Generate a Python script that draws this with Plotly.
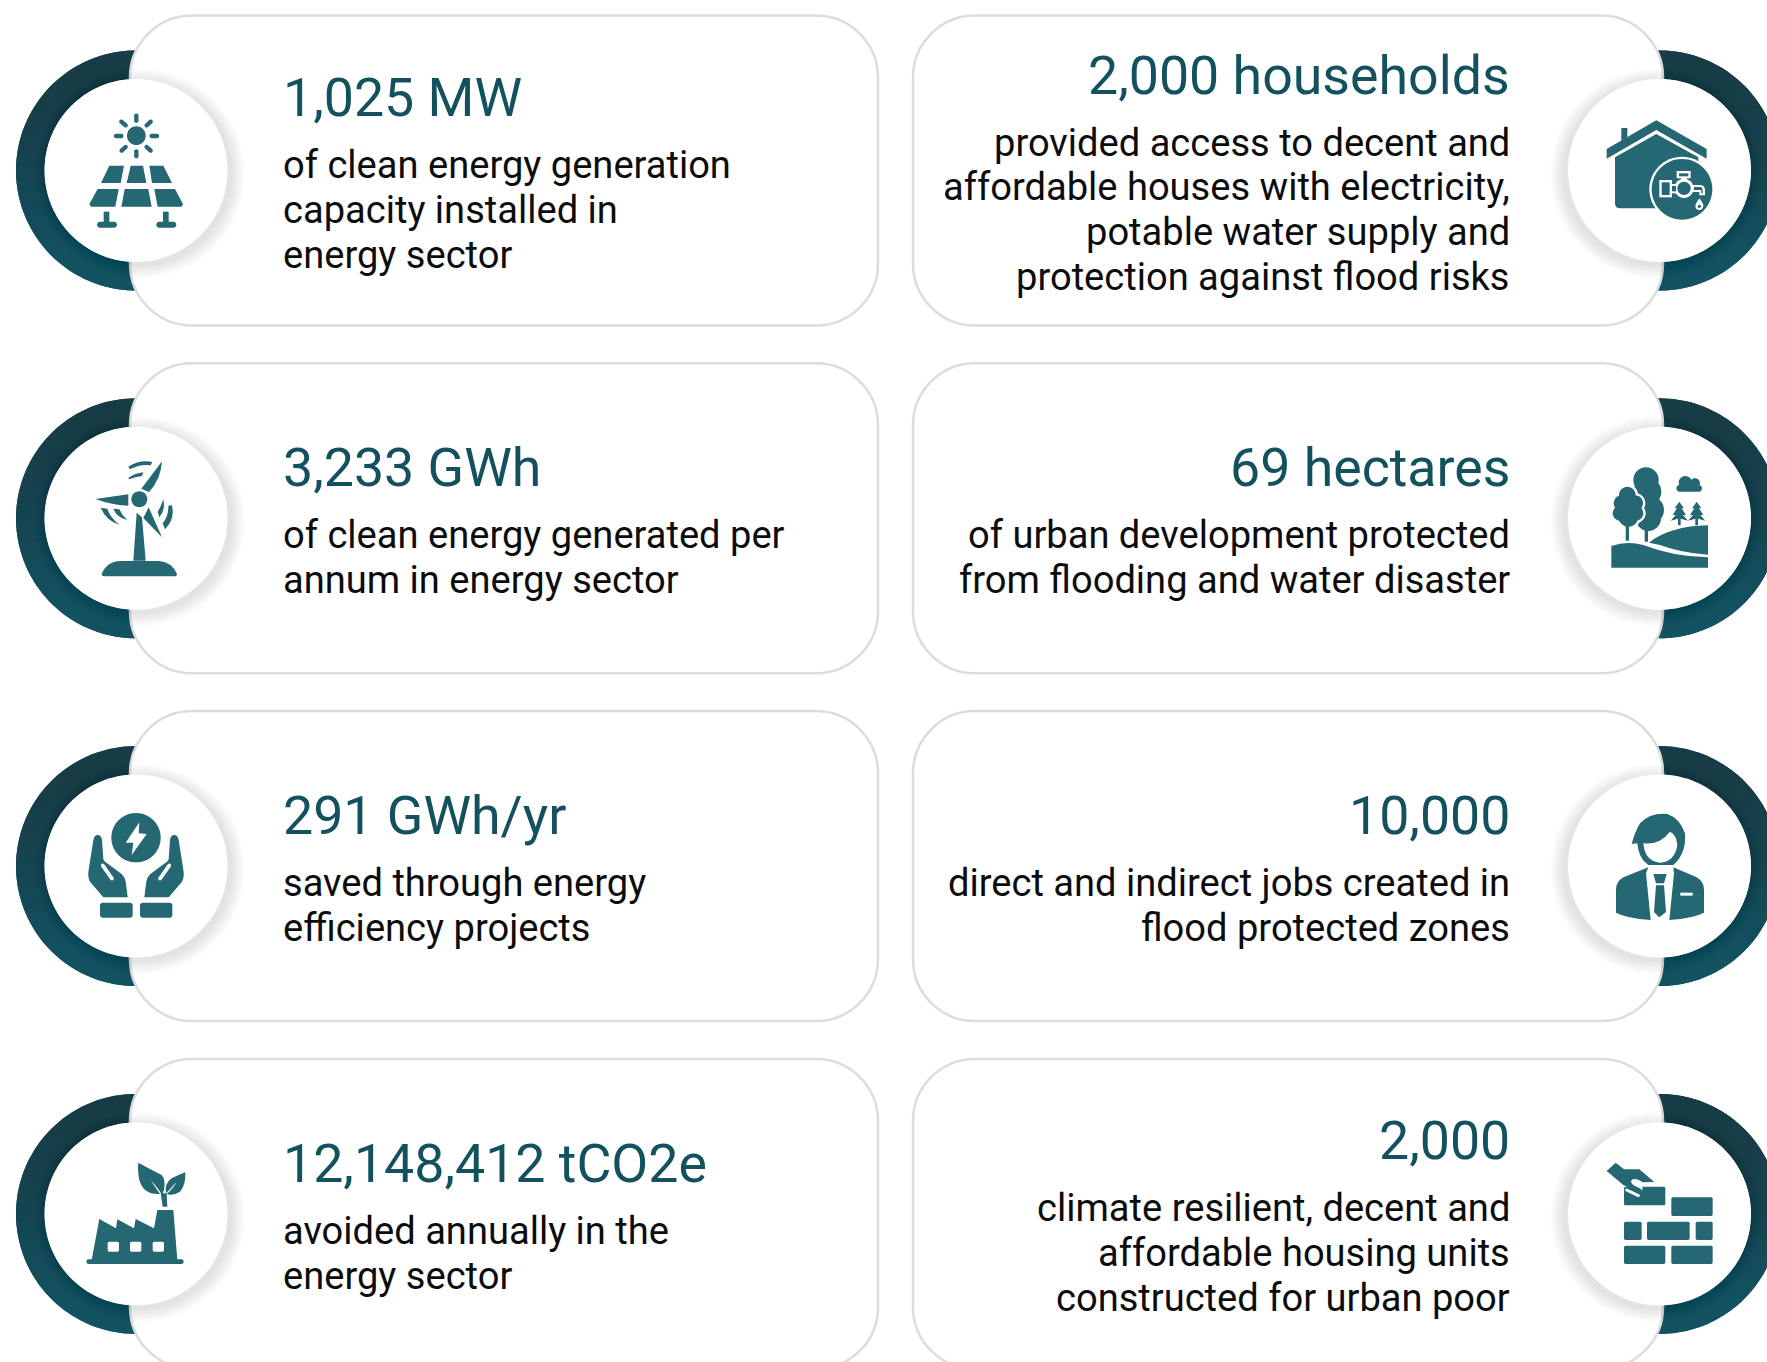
import re, math
import plotly.graph_objects as go

W, H = 1767, 1362
TEAL = "#256773"
HEAD = "#13515f"
BODY = "#0c0c0c"
WHITE = "#ffffff"

left_heads = ["1,025 MW", "3,233 GWh", "291 GWh/yr", "12,148,412 tCO2e"]
left_bodies = [
    ["of clean energy generation", "capacity installed in", "energy sector"],
    ["of clean energy generated per", "annum in energy sector"],
    ["saved through energy", "efficiency projects"],
    ["avoided annually in the", "energy sector"],
]
right_heads = ["2,000 households", "69 hectares", "10,000", "2,000"]
right_bodies = [
    ["provided access to decent and", "affordable houses with electricity,", "potable water supply and", "protection against flood risks"],
    ["of urban development protected", "from flooding and water disaster"],
    ["direct and indirect jobs created in", "flood protected zones"],
    ["climate resilient, decent and", "affordable housing units", "constructed for urban poor"],
]

ROW_PITCH = 347.8
CARD_TOP, CARD_H, CARD_R = 15.5, 310, 62
L_CARD = (130, 878)
R_CARD = (913, 1663)
CY0 = 170.5
L_CX, R_CX = 136, 1659.5
R_OUT, R_IN = 120, 91.5
TXT_L, TXT_R = 282.5, 1509.5
HEAD_SIZE, BODY_SIZE = 53.7, 38.1
LINE_H, HEAD_GAP = 44.8, 67.6

shapes, annotations = [], []
K = 0.5523


def add(path, fill, line=None, width=0):
    shapes.append(dict(type="path", path=path, fillcolor=fill, xref="x", yref="y", layer="above",
                       line=dict(color=line or fill, width=width)))


def circ_path(cx, cy, r, ry=None):
    ry = ry or r
    a, b = r * K, ry * K
    return (f"M{cx-r},{cy} C{cx-r},{cy-b} {cx-a},{cy-ry} {cx},{cy-ry} C{cx+a},{cy-ry} {cx+r},{cy-b} {cx+r},{cy} "
            f"C{cx+r},{cy+b} {cx+a},{cy+ry} {cx},{cy+ry} C{cx-a},{cy+ry} {cx-r},{cy+b} {cx-r},{cy} Z")


def rrect(x0, y0, x1, y1, r):
    c = r * (1 - K)
    return (f"M{x0+r},{y0} L{x1-r},{y0} C{x1-c},{y0} {x1},{y0+c} {x1},{y0+r} L{x1},{y1-r} "
            f"C{x1},{y1-c} {x1-c},{y1} {x1-r},{y1} L{x0+r},{y1} C{x0+c},{y1} {x0},{y1-c} {x0},{y1-r} "
            f"L{x0},{y0+r} C{x0},{y0+c} {x0+c},{y0} {x0+r},{y0} Z")


def capsule(x0, y0, x1, y1, w):
    dx, dy = x1 - x0, y1 - y0
    n = math.hypot(dx, dy) or 1
    ux, uy = dx / n, dy / n
    px, py = -uy * w / 2, ux * w / 2
    ex, ey = ux * w * 0.66, uy * w * 0.66
    return (f"M{x0+px},{y0+py} L{x1+px},{y1+py} C{x1+px+ex},{y1+py+ey} {x1-px+ex},{y1-py+ey} {x1-px},{y1-py} "
            f"L{x0-px},{y0-py} C{x0-px-ex},{y0-py-ey} {x0+px-ex},{y0+py-ey} {x0+px},{y0+py} Z")


def place(path, ox, oy):
    vals = iter(range(10 ** 6))

    def rep(m):
        i = next(vals)
        v = float(m.group(0))
        return f"{(ox + v / 3) if i % 2 == 0 else (oy + v / 3):.2f}"
    return re.sub(r"-?\d+\.?\d*", rep, path)


def icon(parts, ox, oy):
    for col, p in parts:
        add(place(p, ox, oy), col)


T, Wh = TEAL, WHITE
rect = lambda a, b, c, d, r=5: rrect(a, b, c, d, r)

solar = [(T, circ_path(229, 107, 28))]
for seg in [(229, 47, 229, 62), (229, 154, 229, 169), (168, 108, 184, 108), (275, 108, 291, 108),
            (184, 65, 197, 76), (272, 65, 260, 76), (185, 152, 197, 141), (272, 152, 260, 141)]:
    solar.append((T, capsule(*seg, 13)))
solar += [(T, p) for p in [
    "M148,197 L192,197 L182,249 L123,249 Z", "M212,197 L249,197 L259,249 L200,249 Z",
    "M268,197 L310,197 L336,249 L276,249 Z", "M113,267 L176,267 L166,320 L93,320 L88,312 Z",
    "M194,267 L265,267 L275,320 L184,320 Z", "M283,267 L345,267 L369,313 L364,320 L293,320 Z",
    "M131,335 L148,335 L148,368 L131,368 Z", "M309,335 L326,335 L326,368 L309,368 Z",
    capsule(120, 374, 162, 374, 18), capsule(298, 374, 340, 374, 18)]]

turbine = [(T, p) for p in [
    circ_path(238, 208, 24),
    "M244,176 L306,94 Q302,150 267,186 Z", "M205,193 L106,207 Q150,224 205,227 Z",
    "M266,232 L306,322 L250,264 Z",
    "M230,248 L246,262 L257,392 L220,392 Z",
    "M125,432 Q140,395 180,393 L295,393 Q335,395 351,432 Q351,439 345,439 L132,439 Q125,439 125,432 Z",
    "M205,110 Q240,88 277,96 L272,106 Q240,102 210,118 Z", "M205,143 Q225,130 250,127 L246,138 Q225,141 208,148 Z",
    "M122,233 L142,236 Q150,262 178,284 Q138,272 122,233 Z", "M160,236 L178,238 Q185,255 202,270 Q170,262 160,236 Z",
    "M310,208 Q317,240 298,262 L293,245 Q303,230 310,208 Z", "M335,225 Q347,265 315,298 L308,280 Q326,258 325,228 Z",
]]

hand_l = "M100,150 Q103,135 113,135 Q124,135 126,150 L130,208 L135,215 L185,252 Q195,262 197,275 L203,322 L130,322 L90,275 Q82,258 86,240 Z"
hand_r = "M356,150 Q353,135 343,135 Q332,135 330,150 L326,208 L321,215 L271,252 Q261,262 259,275 L253,322 L326,322 L366,275 Q374,258 370,240 Z"
hands = [(T, circ_path(228, 143, 74)),
         (Wh, "M238,97 L197,158 L220,158 L215,195 L260,132 L236,130 Z"),
         (T, hand_l), (T, hand_r),
         (Wh, capsule(128, 226, 156, 266, 11)), (Wh, capsule(328, 226, 300, 266, 11)),
         (T, rect(120, 338, 218, 383, 8)), (T, rect(240, 338, 337, 383, 8))]

factory = [
    (T, "M118,237 L168,265 L172,238 L222,265 L227,237 L282,265 L292,210 L340,210 L352,360 L95,360 Z"),
    (T, capsule(86, 365, 364, 365, 14)),
    (Wh, rect(143, 305, 177, 335, 5)), (Wh, rect(210, 305, 244, 335, 5)), (Wh, rect(278, 305, 312, 335, 5)),
    (T, "M235,68 Q285,95 305,105 Q318,120 312,150 L306,165 Q295,145 272,120 Q290,148 300,162 Q250,165 238,120 Q232,90 235,68 Z"),
    (T, "M376,97 Q378,135 360,155 Q340,168 320,162 Q340,145 350,125 Q330,148 318,160 Q313,130 335,115 Q355,105 376,97 Z"),
    (T, "M302,160 L320,160 L322,200 L308,200 Z"),
]

house = [
    (T, "M124,84 L142,84 L142,112 L124,122 Z"),
    (T, "M229,61 L380,147 L380,176 L229,90 L80,176 L80,147 Z"),
    (T, "M229,102 L355,172 L355,325 L120,325 Q105,325 105,310 L105,172 Z"),
    (Wh, circ_path(306, 268, 98)), (T, circ_path(306, 268, 91)),
    (Wh, "M290,213 L332,213 L332,235 L320,235 L320,245 L303,245 L303,235 L290,235 Z"), (T, "M297,220 L325,220 L325,229 L297,229 Z"),
    (Wh, "M276,252 L292,252 L292,280 L276,280 Z"),
    (Wh, circ_path(312, 265, 29)), (T, circ_path(312, 265, 20)),
    (Wh, "M238,240 L276,240 L276,292 L238,292 Z"), (T, "M245,247 L269,247 L269,285 L245,285 Z"),
    (T, "M276,258 L288,258 L288,274 L276,274 Z"),
    (Wh, "M338,255 L362,255 Q375,256 375,272 L375,286 L358,286 L358,276 L338,276 Z"),
    (T, "M342,261 L360,261 Q368,262 368,272 L368,280 L364,280 L364,270 L342,270 Z"),
    (Wh, "M358,295 Q371,312 370,318 Q368,330 358,330 Q347,330 346,318 Q346,312 358,295 Z"), (T, circ_path(358, 319, 5)),
]

trees = [(T, circ_path(*c)) for c in [(198, 90, 38), (202, 125, 42), (210, 180, 42), (205, 205, 38)]]
trees += [(T, rect(194, 230, 204, 275, 1))]
small_lobes = [(142, 135, 25), (125, 160, 24), (165, 160, 24), (120, 190, 22), (168, 190, 22), (145, 200, 30)]
trees += [(Wh, circ_path(x, y, r + 7)) for x, y, r in small_lobes]
trees += [(T, circ_path(x, y, r)) for x, y, r in small_lobes]
trees += [(T, rect(137, 215, 147, 272, 1)),
          (T, capsule(299, 115, 356, 115, 20)), (T, circ_path(316, 98, 20)), (T, circ_path(345, 100, 15))]
for dx in (0, 52):
    trees.append((T, f"M{298+dx},155 L{312+dx},175 L{305+dx},175 L{318+dx},195 L{309+dx},195 L{324+dx},212 L{302+dx},206 "
                     f"L{302+dx},226 L{294+dx},226 L{294+dx},206 L{272+dx},212 L{287+dx},195 L{278+dx},195 L{291+dx},175 L{284+dx},175 Z"))
trees += [(T, "M94,288 Q140,272 190,285 Q280,320 384,322 L384,353 L94,353 Z"),
          (T, "M207,278 Q270,228 384,226 L384,314 Q300,308 240,285 Z")]

person = [
    (T, "M155,162 Q165,125 180,100 Q210,68 262,72 Q300,85 315,130 Q320,190 280,225 L205,225 Q175,205 172,160 Z"),
    (Wh, "M190,160 Q240,165 270,125 Q290,135 292,165 Q285,215 240,218 Q195,215 190,160 Z"),
    (T, "M205,232 L130,262 Q108,275 108,300 L108,368 Q140,385 212,390 L198,250 Z"),
    (T, "M280,232 L350,262 Q372,275 372,300 L372,368 Q340,385 268,390 L282,250 Z"),
    (T, "M220,252 L260,252 L252,280 L228,280 Z"),
    (T, "M228,286 L252,286 L258,366 L238,382 L222,366 Z"),
    (Wh, "M301,308 L338,308 L338,317 L301,317 Z"),
]

bricks = [(T, rect(*b)) for b in [(132, 140, 256, 196), (274, 172, 398, 228), (132, 245, 185, 300), (201, 245, 329, 300),
                                  (347, 245, 398, 300), (132, 317, 256, 372), (274, 317, 398, 372)]]
bricks += [(Wh, capsule(160, 128, 182, 146, 12)), (Wh, capsule(140, 150, 175, 167, 9)),
           (T, "M80,93 L107,68 L132,88 L178,88 L223,126 L188,127 Q165,112 155,120 Q148,128 165,138 L185,148 Q182,158 170,155 L130,135 Z")]

left_icons = [(solar, 60, 100), (turbine, 60, 430), (hands, 60, 790), (factory, 60, 1140)]
right_icons = [(house, 1580, 100), (trees, 1580, 450), (person, 1580, 790), (bricks, 1580, 1140)]


def mix(t):
    a, b = (0x17, 0x3c, 0x46), (0x12, 0x52, 0x61)
    t = max(0, min(1, t))
    return "#%02x%02x%02x" % tuple(round(x + (y - x) * t) for x, y in zip(a, b))


def ring(cx, cy, side):
    # side = -1 draws the left half, +1 the right half; each slice runs under the next to hide seams
    n = 50
    over = 0.3
    step = (math.pi + 2 * over) / n
    for i in range(n):
        a0 = math.pi / 2 - over + step * i
        pts = [a0 + step * 2 * j / 4 for j in range(5)] if i < n - 1 else [a0 + step * j / 4 for j in range(5)]
        sgn = -1 if side > 0 else 1
        mid_s = math.sin(a0 + step / 2)
        out = abs(math.cos(a0 + step / 2))
        t = 0.5 - 0.62 * mid_s + 0.28 * (1 - out) - 0.1
        o = [(cx + sgn * R_OUT * math.cos(a), cy - R_OUT * math.sin(a)) for a in pts]
        q = [(cx + sgn * R_IN * math.cos(a), cy - R_IN * math.sin(a)) for a in reversed(pts)]
        add("M" + " L".join(f"{x:.2f},{y:.2f}" for x, y in o + q) + " Z", mix(t))


def shadow(cx, cy, side):
    for k in range(1, 15):
        shapes.append(dict(type="circle", x0=cx - R_IN - k - side * 4, x1=cx + R_IN + k - side * 4,
                           y0=cy - R_IN - k + 3, y1=cy + R_IN + k + 3,
                           fillcolor="rgba(0,0,0,0.0068)", line=dict(width=0), layer="above"))


def text_block(head, body, x, anchor, top):
    head_y = top + CARD_H / 2 - (len(body) * LINE_H + HEAD_GAP - LINE_H) / 2 + 5.5
    annotations.append(dict(x=x, y=head_y, text=head, showarrow=False, xanchor=anchor, yanchor="middle",
                            font=dict(family="Roboto", size=HEAD_SIZE, color=HEAD), xref="x", yref="y",
                            borderpad=0, borderwidth=0))
    for j, line in enumerate(body):
        annotations.append(dict(x=x, y=head_y + HEAD_GAP + j * LINE_H, text=line, showarrow=False, xanchor=anchor,
                                yanchor="middle", font=dict(family="Roboto", size=BODY_SIZE, color=BODY),
                                xref="x", yref="y", borderpad=0, borderwidth=0))


for i in range(4):
    top = CARD_TOP + i * ROW_PITCH
    cy = CY0 + i * ROW_PITCH
    ring(L_CX, cy, -1)
    ring(R_CX, cy, 1)
    add(rrect(L_CARD[0], top, L_CARD[1], top + CARD_H, CARD_R), WHITE, "#dcdcdc", 2.5)
    add(rrect(R_CARD[0], top, R_CARD[1], top + CARD_H, CARD_R), WHITE, "#dcdcdc", 2.5)
    shadow(L_CX, cy, -1)
    shadow(R_CX, cy, 1)
    add(circ_path(L_CX, cy, R_IN), WHITE)
    add(circ_path(R_CX, cy, R_IN), WHITE)
    text_block(left_heads[i], left_bodies[i], TXT_L, "left", top)
    text_block(right_heads[i], right_bodies[i], TXT_R, "right", top)

for spec in left_icons + right_icons:
    icon(*spec)

fig = go.Figure()
fig.update_layout(
    width=W, height=H, margin=dict(l=0, r=0, t=0, b=0), showlegend=False,
    paper_bgcolor=WHITE, plot_bgcolor=WHITE, shapes=shapes, annotations=annotations,
    xaxis=dict(range=[0, W], visible=False, fixedrange=True),
    yaxis=dict(range=[H, 0], visible=False, fixedrange=True),
)
fig.write_html("out.html", config={"displayModeBar": False},
               post_script="document.body.style.margin='0';document.body.style.overflow='hidden';")
